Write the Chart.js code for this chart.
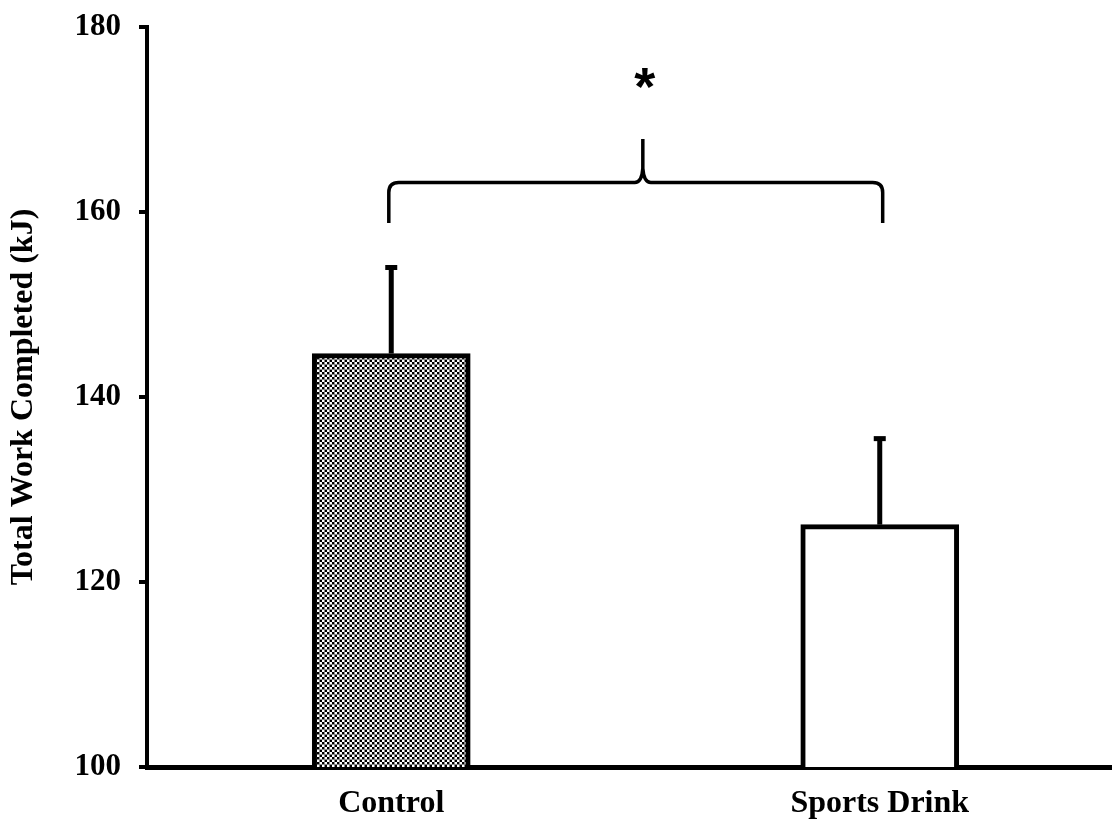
<!DOCTYPE html>
<html>
<head>
<meta charset="utf-8">
<script src="https://cdn.jsdelivr.net/npm/chart.js@4/dist/chart.umd.min.js"></script>
<style>
html,body{margin:0;padding:0;background:#fff;overflow:hidden;}
#wrap{width:1112px;height:819px;position:relative;overflow:hidden;}
</style>
</head>
<body>
<div id="wrap"><canvas id="c" width="1124" height="819"></canvas></div>
<script>
// ---- data ----
const categories = ["Control", "Sports Drink"];
const meanWork = [144.7, 126.2];
const sdWork = [9.3, 9.3];
const yTicks = [100, 120, 140, 160, 180];
const yTitle = "Total Work Completed (kJ)";
const sigMark = "*";
// significance brace (data units: category index, kJ)
const braceFrom = -0.005, braceTo = 1.006, braceMid = 0.515;
const braceLevel = 163.2, braceEndLevel = 158.8, bracePeak = 167.9, starLevel = 174.0;

const serif = '"Liberation Serif","Times New Roman",serif';

// stipple pattern for control bar
function makePattern(ctx){
  const t = document.createElement('canvas');
  t.width = 5; t.height = 5;
  const g = t.getContext('2d');
  g.fillStyle = '#8a8a8a'; g.fillRect(0,0,5,5);
  g.fillStyle = '#000'; g.fillRect(0,0,2,2); g.fillRect(2,2,2,2);
  g.fillStyle = '#fff'; g.fillRect(2,0,2,2); g.fillRect(0,2,2,2);
  return ctx.createPattern(t,'repeat');
}

const canvas = document.getElementById('c');
const ctx = canvas.getContext('2d');
const pattern = makePattern(ctx);

const errorBars = {
  id: 'errorBars',
  afterDatasetsDraw(chart){
    const c = chart.ctx, xs = chart.scales.x, ys = chart.scales.y;
    c.save();
    c.fillStyle = '#000';
    meanWork.forEach((v,i)=>{
      const x = xs.getPixelForValue(i);
      const yTop = ys.getPixelForValue(v + sdWork[i]);
      const yBase = ys.getPixelForValue(v);
      c.fillRect(x-2.5, yTop, 5, yBase - yTop);
      c.fillRect(x-6, yTop-2.5, 12, 5);
    });
    // brace
    const x0 = xs.getPixelForValue(braceFrom), x1 = xs.getPixelForValue(braceTo);
    const xm = xs.getPixelForValue(braceMid);
    const yL = ys.getPixelForValue(braceLevel), yE = ys.getPixelForValue(braceEndLevel);
    const yP = ys.getPixelForValue(bracePeak);
    const r = 10;
    c.strokeStyle = '#000'; c.lineWidth = 3.5; c.lineCap = 'butt'; c.lineJoin='round';
    c.beginPath();
    c.moveTo(x0, yE);
    c.lineTo(x0, yL + r);
    c.quadraticCurveTo(x0, yL, x0 + r, yL);
    c.lineTo(xm - 8, yL);
    c.quadraticCurveTo(xm - 1, yL, xm, yL - 14);
    c.lineTo(xm, yP);
    c.moveTo(xm, yL - 14);
    c.quadraticCurveTo(xm + 1, yL, xm + 8, yL);
    c.lineTo(x1 - r, yL);
    c.quadraticCurveTo(x1, yL, x1, yL + r);
    c.lineTo(x1, yE);
    c.stroke();
    // asterisk
    c.font = 'bold 54px "Liberation Sans", Arial, sans-serif';
    c.textAlign = 'center'; c.textBaseline = 'middle';
    c.fillText(sigMark, xm + 2, ys.getPixelForValue(starLevel) + 8);
    c.restore();
  }
};

new Chart(ctx, {
  type: 'bar',
  data: {
    labels: categories,
    datasets: [{
      data: meanWork,
      backgroundColor: [pattern, '#ffffff'],
      borderColor: '#000',
      borderWidth: 5,
      barThickness: 158
    }]
  },
  options: {
    responsive: false,
    animation: false,
    events: [],
    layout: { padding: { top: 27, right: 0, bottom: 0, left: 0 } },
    plugins: { legend: { display: false }, tooltip: { enabled: false } },
    scales: {
      x: {
        offset: true,
        grid: { display: false, drawTicks: false },
        border: { display: true, color: '#000', width: 5 },
        ticks: { color: '#000', padding: 18, font: { family: serif, size: 32, weight: 'bold' } },
        afterFit(s){ s.height = 52; s.paddingLeft = 0; s.paddingRight = 0; }
      },
      y: {
        min: 100, max: 180,
        afterBuildTicks(s){ s.ticks = yTicks.map(v=>({value:v})); },
        grid: { display: true, drawOnChartArea: false, drawTicks: true, tickLength: 8, lineWidth: 4, color: '#000' },
        border: { display: true, color: '#000', width: 4 },
        ticks: { color: '#000', padding: 18, font: { family: serif, size: 31, weight: 'bold' } },
        title: { display: true, text: yTitle, color: '#000', padding: { top: 5, bottom: 0 }, font: { family: serif, size: 32, weight: 'bold' } },
        afterFit(s){ s.width = 147; s.paddingTop = 0; s.paddingBottom = 0; }
      }
    }
  },
  plugins: [errorBars]
});
</script>
</body>
</html>
